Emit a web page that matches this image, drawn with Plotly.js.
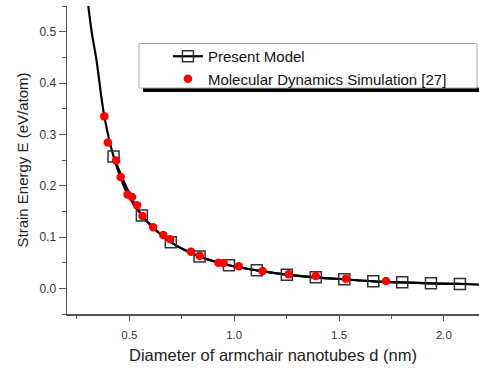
<!DOCTYPE html>
<html>
<head>
<meta charset="utf-8">
<script src="https://cdn.plot.ly/plotly-3.0.1.min.js"></script>
<style>html,body{margin:0;padding:0;background:#fff;}#chart{width:479px;height:372px;}</style>
</head>
<body>
<div id="chart"></div>
<script>
// Present Model (square markers)
const modelD = [0.425, 0.560, 0.698, 0.835, 0.975, 1.108, 1.251, 1.389, 1.525, 1.663, 1.801, 1.938, 2.076];
const modelE = [0.257, 0.142, 0.090, 0.062, 0.045, 0.035, 0.0267, 0.0214, 0.0175, 0.0136, 0.0117, 0.0097, 0.0086];
// Present Model continuous curve
const curveD = [0.304, 0.321, 0.343, 0.381, 0.425, 0.492, 0.560, 0.698, 0.835, 0.975, 1.108, 1.251, 1.389, 1.525, 1.663, 1.801, 1.938, 2.076, 2.167];
const curveE = [0.552, 0.4985, 0.446, 0.335, 0.257, 0.183, 0.142, 0.090, 0.062, 0.045, 0.035, 0.0267, 0.0214, 0.0175, 0.0136, 0.0117, 0.0097, 0.0086, 0.0074];
// Molecular Dynamics Simulation [27]
const mdD = [0.381, 0.398, 0.437, 0.459, 0.492, 0.513, 0.537, 0.563, 0.614, 0.662, 0.695, 0.794, 0.836, 0.925, 0.949, 1.022, 1.135, 1.260, 1.389, 1.533, 1.724];
const mdE = [0.335, 0.284, 0.249, 0.217, 0.183, 0.178, 0.162, 0.141, 0.119, 0.104, 0.0955, 0.0715, 0.0637, 0.050, 0.0493, 0.0429, 0.0337, 0.0273, 0.024, 0.0189, 0.0142];

const xTickVals = [0.5, 1.0, 1.5, 2.0];
const xTickText = ['0.5', '1.0', '1.5', '2.0'];
const yTickVals = [0.0, 0.1, 0.2, 0.3, 0.4, 0.5];
const yTickText = ['0.0', '0.1', '0.2', '0.3', '0.4', '0.5'];

const FONT = 'Arial, "Liberation Sans", sans-serif';

const traces = [
  {x: curveD, y: curveE, mode: 'lines', line: {color: '#000', width: 2.2, shape: 'spline'}, showlegend: false, hoverinfo: 'skip'},
  {x: modelD, y: modelE, mode: 'lines+markers', name: 'Present Model',
   line: {color: '#000', width: 2.2, shape: 'spline'},
   marker: {symbol: 'square-open', size: 11, color: '#333', line: {width: 1.5, color: '#333'}}},
  {x: mdD, y: mdE, mode: 'markers', name: 'Molecular Dynamics Simulation [27]',
   marker: {symbol: 'circle', size: 8.5, color: '#ff0000'}}
];

const layout = {
  width: 479, height: 372,
  margin: {l: 67, r: 0, t: 6, b: 58},
  paper_bgcolor: '#fff', plot_bgcolor: '#fff',
  font: {family: FONT, size: 12, color: '#333'},
  showlegend: true,
  legend: {x: 0.245, y: 0.8896, xanchor: 'left', yanchor: 'top', bgcolor: 'rgba(0,0,0,0)', borderwidth: 0,
           font: {family: FONT, size: 15, color: '#111'}, tracegroupgap: 0},
  xaxis: {
    range: [0.203, 2.167], showgrid: false, zeroline: false,
    showline: true, linecolor: '#555', linewidth: 1.5,
    ticks: 'outside', ticklen: 5, tickcolor: '#555', tickwidth: 1,
    tickvals: xTickVals, ticktext: xTickText,
    minor: {dtick: 0.25, tick0: 0, ticks: 'outside', ticklen: 3, tickcolor: '#555'},
    tickfont: {family: FONT, size: 11.5, color: '#333'},
    ticklabelstandoff: 5,
    title: {text: 'Diameter of armchair nanotubes d (nm)', font: {family: FONT, size: 16.5, color: '#222'}, standoff: 9}
  },
  yaxis: {
    range: [-0.05, 0.55], showgrid: false, zeroline: false,
    showline: true, linecolor: '#555', linewidth: 1.5,
    ticks: 'outside', ticklen: 7, tickcolor: '#555', tickwidth: 1,
    tickvals: yTickVals, ticktext: yTickText,
    minor: {dtick: 0.05, tick0: 0, ticks: 'outside', ticklen: 4, tickcolor: '#555'},
    tickfont: {family: FONT, size: 12, color: '#333'},
    title: {text: 'Strain Energy E (eV/atom)', font: {family: FONT, size: 15, color: '#222'}, standoff: 7}
  },
  shapes: [
    {type: 'rect', xref: 'paper', yref: 'paper', x0: (143-67)/412, x1: 1.01, y0: (314-92)/308, y1: (314-87.5)/308,
     fillcolor: '#000', line: {width: 0}, layer: 'above'},
    {type: 'rect', xref: 'paper', yref: 'paper', x0: (139-67)/412, x1: (477-67)/412, y0: (314-88)/308, y1: (314-43.5)/308,
     fillcolor: '#fff', line: {width: 1, color: '#aaa'}, layer: 'above'}
  ]
};

Plotly.newPlot('chart', traces, layout, {displayModeBar: false, staticPlot: true});
</script>
</body>
</html>
